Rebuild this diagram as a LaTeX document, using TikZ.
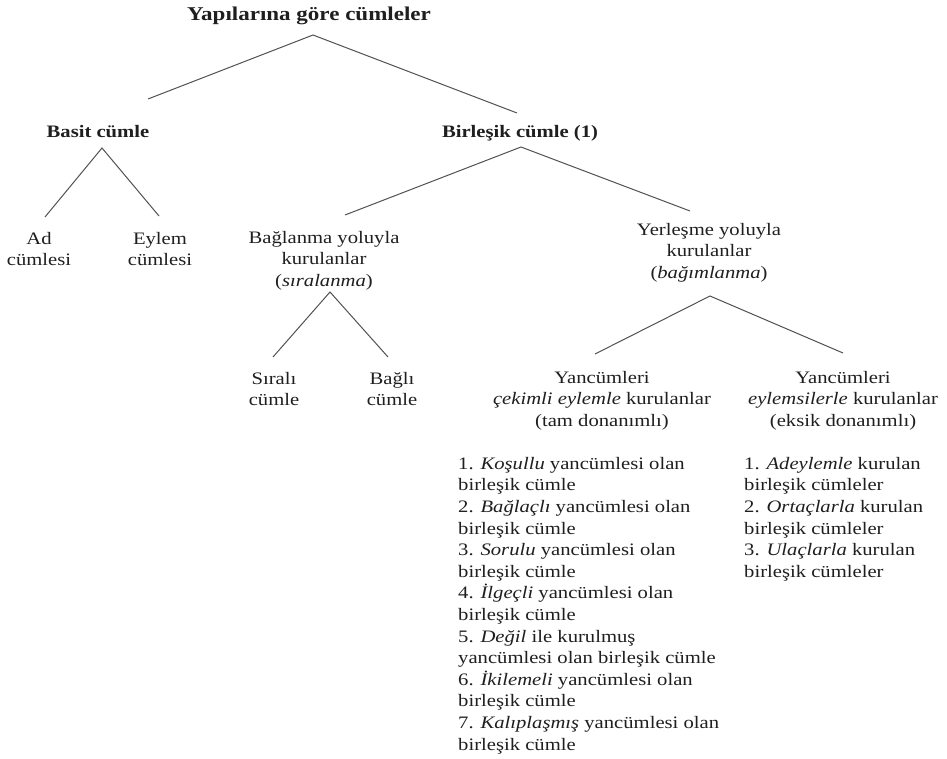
\documentclass[tikz,border=0pt]{standalone}
\usepackage{fontspec}
\setmainfont{Liberation Serif}[FakeStretch=1.18]
\begin{document}
\begin{tikzpicture}[x=1pt,y=-1pt,
  txt/.style={inner sep=0pt, text=black!88, font=\fontsize{17.5}{21.6}\selectfont},
  blk/.style={txt, anchor=north, align=center},
  hd/.style={txt, anchor=north, font=\fontsize{17.5}{21.6}\selectfont\bfseries},
  lst/.style={txt, anchor=north west, align=left},
  br/.style={draw=black!68, line width=1pt}]
\useasboundingbox[fill=white] (0,0) rectangle (947,759);
% texts
\node[hd, font=\fontsize{19.5}{23}\selectfont\bfseries] (root) at (309,7) {Yapılarına göre cümleler};
\node[hd] (basit) at (98,125) {Basit cümle};
\node[hd] (birlesik) at (520,125) {Birleşik cümle (1)};
\node[blk] (ad) at (39,232) {Ad\\cümlesi};
\node[blk] (eylem) at (160,232) {Eylem\\cümlesi};
\node[blk] (baglanma) at (324,231) {Bağlanma yoluyla\\kurulanlar\\(\textit{sıralanma})};
\node[blk] (yerlesme) at (709,223) {Yerleşme yoluyla\\kurulanlar\\(\textit{bağımlanma})};
\node[blk] (sirali) at (274,372) {Sıralı\\cümle};
\node[blk] (bagli) at (392,372) {Bağlı\\cümle};
\node[blk] (tam) at (602,371) {Yancümleri\\\textit{çekimli eylemle} kurulanlar\\(tam donanımlı)};
\node[blk] (eksik) at (843,371) {Yancümleri\\\textit{eylemsilerle} kurulanlar\\(eksik donanımlı)};
\node[lst] (liste1) at (458,457) {1. \textit{Koşullu} yancümlesi olan\\birleşik cümle\\2. \textit{Bağlaçlı} yancümlesi olan\\birleşik cümle\\3. \textit{Sorulu} yancümlesi olan\\birleşik cümle\\4. \textit{İlgeçli} yancümlesi olan\\birleşik cümle\\5. \textit{Değil} ile kurulmuş\\yancümlesi olan birleşik cümle\\6. \textit{İkilemeli} yancümlesi olan\\birleşik cümle\\7. \textit{Kalıplaşmış} yancümlesi olan\\birleşik cümle};
\node[lst] (liste2) at (744,457) {1. \textit{Adeylemle} kurulan\\birleşik cümleler\\2. \textit{Ortaçlarla} kurulan\\birleşik cümleler\\3. \textit{Ulaçlarla} kurulan\\birleşik cümleler};
% branch points
\coordinate (r0) at (313,35);   \coordinate (r1) at (148,99);  \coordinate (r2) at (517,113);
\coordinate (b0) at (102,148);  \coordinate (b1) at (45,217);  \coordinate (b2) at (159,216);
\coordinate (k0) at (521,147);  \coordinate (k1) at (345,215); \coordinate (k2) at (690,211);
\coordinate (s0) at (330,292);  \coordinate (s1) at (273,357); \coordinate (s2) at (388,357);
\coordinate (y0) at (710,296);  \coordinate (y1) at (595,354); \coordinate (y2) at (843,353);
\draw[br] (r1) -- (r0) -- (r2);
\draw[br] (b1) -- (b0) -- (b2);
\draw[br] (k1) -- (k0) -- (k2);
\draw[br] (s1) -- (s0) -- (s2);
\draw[br] (y1) -- (y0) -- (y2);
\end{tikzpicture}
\end{document}
